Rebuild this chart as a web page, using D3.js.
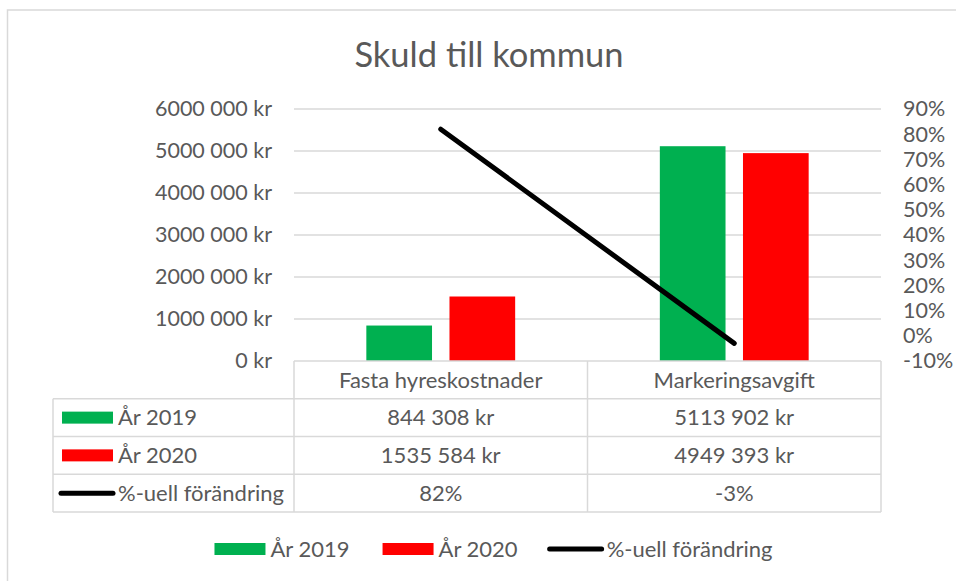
<!DOCTYPE html>
<html>
<head>
<meta charset="utf-8">
<script src="https://cdn.jsdelivr.net/npm/d3@7"></script>
<style>
  body { margin: 0; background: #fff; }
  text { font-family: Lato, "Open Sans", sans-serif; fill: #595959; }
</style>
</head>
<body>
<svg width="956" height="581"></svg>
<script>
// data
const categories = ["Fasta hyreskostnader", "Markeringsavgift"];
const seriesNames = ["År 2019", "År 2020"];
const values2019 = [844308, 5113902];
const values2020 = [1535584, 4949393];
const changeName = "%-uell förändring";
const changePct = [0.82, -0.03];
const colors = ["#00b050", "#ff0000"];

const svg = d3.select("svg");
const plot = {left: 294, right: 881, top: 109, bottom: 361};
const rowH = 37.75;
const labelColLeft = 53;
const grid = "#d9d9d9";
const axisFont = "21.5px", tableFont = "22px";

// outer frame
svg.append("rect").attr("x", 7.5).attr("y", 10).attr("width", 960).attr("height", 600)
  .attr("fill", "none").attr("stroke", grid).attr("stroke-width", 1.5);

// title
svg.append("text").attr("x", 489).attr("y", 67).attr("text-anchor", "middle")
  .style("font-size", "34.5px").text("Skuld till kommun");

const locale = d3.formatLocale({decimal: ",", thousands: " ", grouping: [3], currency: ["", " kr"], minus: "-", percent: "%"});
const kr = v => locale.format("$,.0f")(v).replace(/^(\d) (?=\d{3} )/, "$1");
const pct = locale.format(".0%");

const x = d3.scaleBand().domain(categories).range([plot.left, plot.right]);
const xInner = d3.scaleBand().domain(seriesNames).range([0, x.bandwidth()]).paddingInner(0.21).paddingOuter(0.87);
const y = d3.scaleLinear().domain([0, 6000000]).range([plot.bottom, plot.top]);
const yR = d3.scaleLinear().domain([-0.1, 0.9]).range([plot.bottom, plot.top]);

// gridlines + left axis
const yTicks = y.ticks(6);
svg.append("g").selectAll("line").data(yTicks.filter(d => d > 0)).join("line")
  .attr("x1", plot.left).attr("x2", plot.right)
  .attr("y1", d => y(d)).attr("y2", d => y(d))
  .attr("stroke", grid).attr("stroke-width", 1.5);

const leftAxis = svg.append("g").attr("transform", `translate(${plot.left},0)`)
  .call(d3.axisLeft(y).tickValues(yTicks).tickFormat(kr).tickSize(0).tickPadding(22));
leftAxis.select(".domain").remove();
leftAxis.selectAll("text").style("font-size", axisFont).attr("fill", "#595959").attr("font-family", null);

const rightAxis = svg.append("g").attr("transform", `translate(${plot.right},0)`)
  .call(d3.axisRight(yR).ticks(10).tickFormat(pct).tickSize(0).tickPadding(22));
rightAxis.select(".domain").remove();
rightAxis.selectAll("text").style("font-size", axisFont).attr("fill", "#595959").attr("font-family", null);

// bars
const barData = [];
categories.forEach((c, i) => {
  barData.push({cat: c, s: seriesNames[0], v: values2019[i], color: colors[0]});
  barData.push({cat: c, s: seriesNames[1], v: values2020[i], color: colors[1]});
});
svg.append("g").selectAll("rect").data(barData).join("rect")
  .attr("x", d => x(d.cat) + xInner(d.s))
  .attr("width", xInner.bandwidth())
  .attr("y", d => y(d.v))
  .attr("height", d => y(0) - y(d.v))
  .attr("fill", d => d.color);

// change line
const line = d3.line().x((d, i) => x(categories[i]) + x.bandwidth() / 2).y(d => yR(d));
svg.append("path").datum(changePct).attr("d", line)
  .attr("fill", "none").attr("stroke", "#000").attr("stroke-width", 5).attr("stroke-linecap", "round");

// data table
const table = svg.append("g");
const tStroke = l => l.attr("stroke", grid).attr("stroke-width", 1.5).attr("fill", "none");
const rowsTop = plot.bottom + rowH;
const tableBottom = plot.bottom + rowH * 4;
// horizontal lines
table.append("line").attr("x1", plot.left).attr("x2", plot.right).attr("y1", plot.bottom).attr("y2", plot.bottom).call(tStroke);
[1, 2, 3, 4].forEach(r => {
  table.append("line").attr("x1", labelColLeft).attr("x2", plot.right)
    .attr("y1", plot.bottom + rowH * r).attr("y2", plot.bottom + rowH * r).call(tStroke);
});
// vertical lines
table.append("line").attr("x1", labelColLeft).attr("x2", labelColLeft).attr("y1", rowsTop).attr("y2", tableBottom).call(tStroke);
[plot.left, x(categories[1]), plot.right].forEach(xx => {
  table.append("line").attr("x1", xx).attr("x2", xx).attr("y1", plot.bottom).attr("y2", tableBottom).call(tStroke);
});

const cellText = (cx, row, txt) => table.append("text")
  .attr("x", cx).attr("y", plot.bottom + rowH * row + rowH / 2).attr("dy", "0.35em")
  .attr("text-anchor", "middle").style("font-size", tableFont).text(txt);

categories.forEach((c, i) => {
  const cx = x(c) + x.bandwidth() / 2;
  cellText(cx, 0, c);
  cellText(cx, 1, kr(values2019[i]));
  cellText(cx, 2, kr(values2020[i]));
  cellText(cx, 3, pct(changePct[i]));
});

// legend keys inside the table
const keys = [
  {name: seriesNames[0], type: "rect", color: colors[0]},
  {name: seriesNames[1], type: "rect", color: colors[1]},
  {name: changeName, type: "line", color: "#000"}
];
function drawKey(g, k, x0, cy) {
  if (k.type === "rect") {
    g.append("rect").attr("x", x0 + 1).attr("y", cy - 6).attr("width", 51).attr("height", 12).attr("fill", k.color);
  } else {
    g.append("line").attr("x1", x0 + 0).attr("x2", x0 + 52).attr("y1", cy).attr("y2", cy)
      .attr("stroke", k.color).attr("stroke-width", 5).attr("stroke-linecap", "round");
  }
  return g.append("text").attr("x", x0 + 57).attr("y", cy).attr("dy", "0.35em").style("font-size", tableFont).text(k.name);
}
keys.forEach((k, i) => {
  drawKey(table, k, 61, plot.bottom + rowH * (i + 1) + rowH / 2);
});

// bottom legend
const legend = svg.append("g");
const legendY = 549;
const items = keys.map(k => {
  const g = legend.append("g");
  const t = drawKey(g, k, 0, legendY);
  return {g: g, w: 57 + t.node().getComputedTextLength()};
});
const gap = 32;
const totalW = d3.sum(items, d => d.w) + gap * (items.length - 1);
let cursor = 493 - totalW / 2;
items.forEach(it => {
  it.g.attr("transform", `translate(${cursor},0)`);
  cursor += it.w + gap;
});
</script>
</body>
</html>
